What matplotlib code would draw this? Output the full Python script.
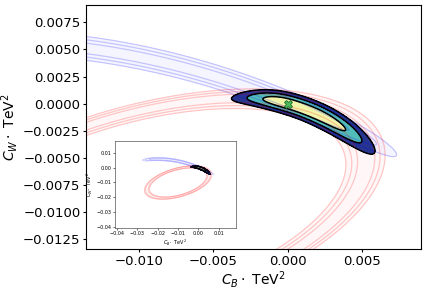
import numpy as np
import matplotlib.pyplot as plt

# chi2 levels for 1, 2, 3 sigma (2 dof)
levels = [2.30, 6.18, 11.83]

# blue constraint: thin bent band, centre line y = a + b*x + c*x^2
blue_curve = [0.000123, -0.555, -13.9]
blue_x0 = -0.0100
blue_length = 0.01274
blue_width = 0.00032

# red constraint: elliptical ring
red_center = [-0.0100, -0.0100]
red_axes = [0.0164, 0.0087]
red_angle = 25.0
red_sigma = 0.05

# global fit (banana)
fit_curve = [0.0, -0.364, -63.2]
fit_x0 = 0.0
fit_length_left = 0.0011
fit_length_right = 0.00318
fit_width = 0.00031
fit_taper = 0.02
fit_colors = ["#f1f4a9", "#52bdb8", "#27358f"]

sm_point = [0.0, 0.0]

main_xlim = [-0.0136, 0.0090]
main_ylim = [-0.0134, 0.0091]
inset_xlim = [-0.041, 0.0183]
inset_ylim = [-0.0405, 0.0178]


def chi2_blue(X, Y):
    a, b, c = blue_curve
    v = Y - (a + b * X + c * X**2)
    u = X - blue_x0
    return (v / blue_width)**2 + (u / blue_length)**8


def chi2_red(X, Y):
    t = np.radians(red_angle)
    dx = X - red_center[0]
    dy = Y - red_center[1]
    u = dx * np.cos(t) + dy * np.sin(t)
    v = -dx * np.sin(t) + dy * np.cos(t)
    q = (u / red_axes[0])**2 + (v / red_axes[1])**2
    return ((q - 1) / red_sigma)**2


def chi2_fit(X, Y):
    a, b, c = fit_curve
    v = Y - (a + b * X + c * X**2)
    u = X - fit_x0
    w = np.maximum(fit_width + fit_taper * u, 1e-5)
    lon = np.where(u < 0, (u / fit_length_left)**2, (u / fit_length_right)**4)
    return (v / w)**2 + lon


x = np.linspace(-0.045, 0.02, 1600)
y = np.linspace(-0.045, 0.02, 1600)
X, Y = np.meshgrid(x, y)
cb = chi2_blue(X, Y)
cr = chi2_red(X, Y)
cf = chi2_fit(X, Y)


def draw(ax, lw):
    ax.contourf(X, Y, cb, levels=[0, levels[-1]], colors="blue", alpha=0.04)
    ax.contour(X, Y, cb, levels=levels, colors="blue", alpha=0.2, linewidths=lw)
    ax.contourf(X, Y, cr, levels=[0, levels[-1]], colors="red", alpha=0.03)
    ax.contour(X, Y, cr, levels=levels, colors="red", alpha=0.2, linewidths=lw)
    ax.contourf(X, Y, cf, levels=[0] + levels, colors=fit_colors)
    ax.contour(X, Y, cf, levels=levels, colors="black", linewidths=lw * 1.2)


fig = plt.figure(figsize=(4.27, 2.91), dpi=100)
ax = fig.add_axes([0.2014, 0.1443, 0.7846, 0.8385])
draw(ax, 0.9)
ax.plot(sm_point[0], sm_point[1], marker="X", color="#4cbb5a",
        markeredgecolor="#1e6b2a", markersize=6, markeredgewidth=0.6)
ax.set_xlim(main_xlim)
ax.set_ylim(main_ylim)
ax.set_xticks([-0.010, -0.005, 0.000, 0.005])
ax.tick_params(labelsize=9.5, length=2.5, pad=1.5)
ax.set_xlabel(r"$C_B\cdot$ TeV$^2$", fontsize=10, labelpad=1)
ax.set_ylabel(r"$C_W\cdot$ TeV$^2$", fontsize=10, labelpad=2)

ins = fig.add_axes([0.269, 0.2165, 0.283, 0.299])
draw(ins, 0.5)
ins.set_xlim(inset_xlim)
ins.set_ylim(inset_ylim)
ins.set_xticks([-0.04, -0.03, -0.02, -0.01, 0.00, 0.01])
ins.set_yticks([-0.04, -0.03, -0.02, -0.01, 0.00, 0.01])
ins.tick_params(labelsize=3.5, length=1.5, width=0.4, pad=1)
for s in ins.spines.values():
    s.set_linewidth(0.5)
    s.set_color("#555555")
ins.set_xlabel(r"$C_B\cdot$ TeV$^2$", fontsize=3.5, labelpad=1)
ins.set_ylabel(r"$C_W\cdot$ TeV$^2$", fontsize=3.5, labelpad=1)

fig.savefig("out.png", dpi=100)
